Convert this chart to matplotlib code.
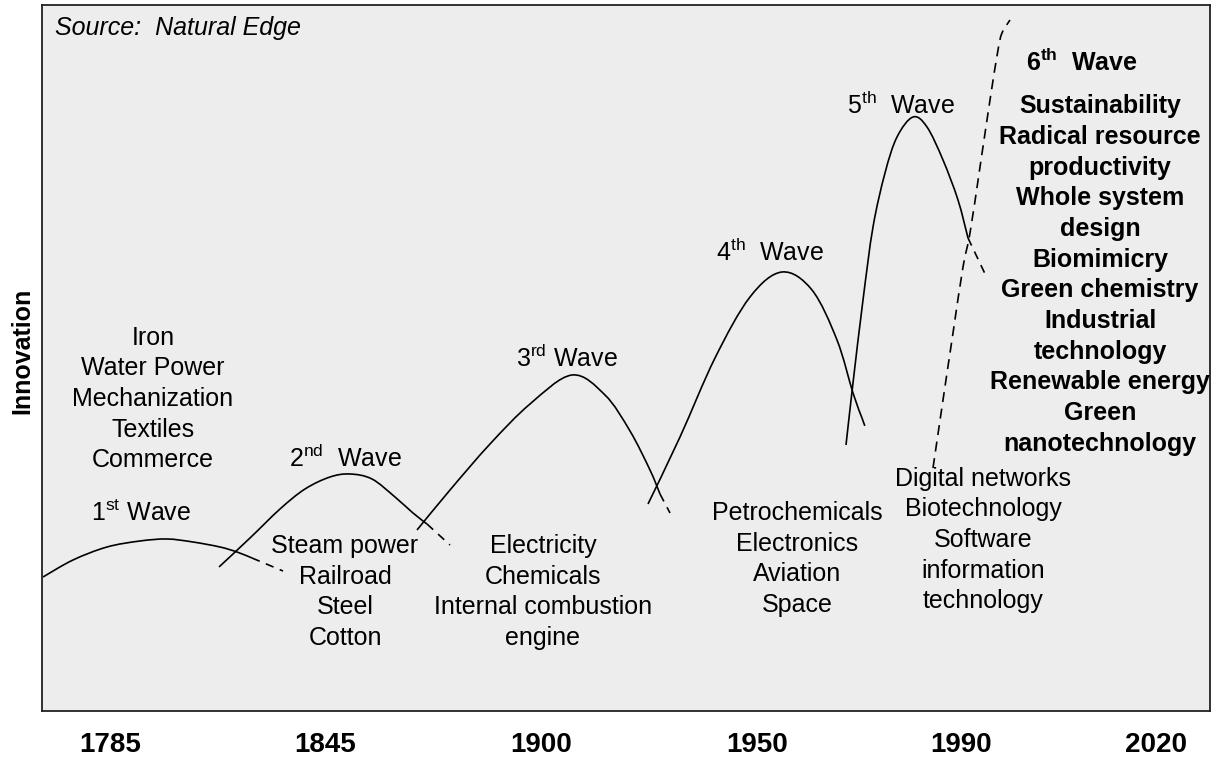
import matplotlib
matplotlib.use("Agg")
import numpy as np
import matplotlib.pyplot as plt
from matplotlib.path import Path
from matplotlib.patches import PathPatch

plt.rcParams["font.family"] = ["Liberation Sans", "DejaVu Sans"]
plt.rcParams["mathtext.fontset"] = "custom"
plt.rcParams["mathtext.rm"] = "Liberation Sans"
plt.rcParams["mathtext.bf"] = "Liberation Sans:bold"

# ----------------------------- data -----------------------------
# x = position along the time axis, y = innovation level (both in chart units)
years = ["1785", "1845", "1900", "1950", "1990", "2020"]
year_pos = [110, 325, 541, 757, 961, 1156]

wave1_x = [43, 73, 107, 140, 167, 193, 220, 237, 252]
wave1_y = [134, 151, 164, 170, 172, 169, 164, 159, 153]
wave1_tail_x = [252, 283]
wave1_tail_y = [153, 140]

wave2_x = [219, 250, 280, 305, 330, 350, 372, 395, 413, 427]
wave2_y = [144, 173, 202, 222, 234, 237, 232, 214, 198, 187]
wave2_tail_x = [427, 450]
wave2_tail_y = [187, 166]

wave3_x = [417, 450, 490, 530, 572, 605, 630, 650, 660]
wave3_y = [181, 221, 267, 307, 336, 316, 280, 241, 217]
wave3_tail_x = [660, 670]
wave3_tail_y = [217, 198]

wave4_x = [648, 680, 715, 750, 782, 812, 837, 853, 862]
wave4_y = [207, 274, 353, 414, 439, 421, 371, 318, 293]
wave4_tail_x = [862, 867]
wave4_tail_y = [293, 279]

wave5_x = [846, 853, 863, 873, 885, 897, 913, 927, 943, 958, 968]
wave5_y = [266, 328, 411, 484, 538, 574, 594, 584, 551, 511, 473]
wave5_tail_x = [968, 987]
wave5_tail_y = [473, 433]

wave6_x = [933, 943, 953, 963, 970, 980, 990, 998, 1002, 1010]
wave6_y = [243, 311, 378, 444, 478, 544, 611, 661, 678, 691]

wave_num = ["1", "2", "3", "4", "5", "6"]
wave_sup = ["st", "nd", "rd", "th", "th", "th"]
wave_gap = [" ", "  ", " ", "  ", "  ", "  "]
wave_lab_x = [141, 345, 567, 770, 901, 1082]
wave_lab_y = [198, 253, 353, 459, 606, 649]

tech_lines = [
    ["Iron", "Water Power", "Mechanization", "Textiles", "Commerce"],
    ["Steam power", "Railroad", "Steel", "Cotton"],
    ["Electricity", "Chemicals", "Internal combustion", "engine"],
    ["Petrochemicals", "Electronics", "Aviation", "Space"],
    ["Digital networks", "Biotechnology", "Software", "information", "technology"],
    ["Sustainability", "Radical resource", "productivity", "Whole system",
     "design", "Biomimicry", "Green chemistry", "Industrial", "technology",
     "Renewable energy", "Green", "nanotechnology"],
]
tech_x = [153, 345, 543, 797, 983, 1100]
tech_y = [312, 119, 119, 152, 171, 436]
tech_bold = [False, False, False, False, False, True]


# ----------------------------- utils -----------------------------

def smooth_path(xs, ys):
    """Catmull-Rom through the read points, drawn as cubic Bezier segments."""
    P = np.column_stack([xs, ys]).astype(float)
    n = len(P)
    verts = [P[0]]
    codes = [Path.MOVETO]
    for i in range(n - 1):
        p0 = P[max(i - 1, 0)]
        p1 = P[i]
        p2 = P[i + 1]
        p3 = P[min(i + 2, n - 1)]
        verts += [p1 + (p2 - p0) / 6, p2 - (p3 - p1) / 6, p2]
        codes += [Path.CURVE4] * 3
    return Path(verts, codes)


def draw_curve(ax, xs, ys, **kw):
    ax.add_patch(PathPatch(smooth_path(xs, ys), fill=False, **kw))


# ----------------------------- plot -----------------------------
W, H = 1216, 769
fig = plt.figure(figsize=(W / 100, H / 100), dpi=100)
ax = fig.add_axes([42 / W, (H - 711) / H, (1210 - 42) / W, (711 - 5) / H])
ax.set_facecolor("#ededed")
ax.set_xlim(42, 1210)
ax.set_ylim(0, 706)

for xs, ys, tx, ty in [
    (wave1_x, wave1_y, wave1_tail_x, wave1_tail_y),
    (wave2_x, wave2_y, wave2_tail_x, wave2_tail_y),
    (wave3_x, wave3_y, wave3_tail_x, wave3_tail_y),
    (wave4_x, wave4_y, wave4_tail_x, wave4_tail_y),
    (wave5_x, wave5_y, wave5_tail_x, wave5_tail_y),
]:
    draw_curve(ax, xs, ys, edgecolor="black", lw=1.2)
    ax.plot(tx, ty, color="black", lw=1.2, linestyle=(0, (5, 4)))
draw_curve(ax, wave6_x, wave6_y, edgecolor="black", lw=1.2, linestyle=(0, (6, 4)))

# wave titles
for i in range(len(wave_num)):
    bold = wave_num[i] == "6"
    sup = r"\mathbf{%s}" % wave_sup[i] if bold else r"\mathrm{%s}" % wave_sup[i]
    ax.text(wave_lab_x[i], wave_lab_y[i], wave_num[i] + "$^{" + sup + "}$" + wave_gap[i] + "Wave",
            ha="center", va="center", fontsize=18,
            fontweight="bold" if bold else "normal")

# technologies of each wave
for lines, x, y, b in zip(tech_lines, tech_x, tech_y, tech_bold):
    ax.text(x, y, "\n".join(lines), ha="center", va="center", fontsize=18,
            linespacing=1.35, fontweight="bold" if b else "normal")

ax.text(55, 683, "Source:  Natural Edge", ha="left", va="center",
        fontsize=18, style="italic")

ax.set_xticks(year_pos)
ax.set_xticklabels(years, fontsize=20, fontweight="bold")
ax.tick_params(axis="x", length=0, pad=15)
ax.set_yticks([])
for s in ax.spines.values():
    s.set_color("#222222")
    s.set_linewidth(1.3)

fig.text(22 / W, 1 - 351 / H, "Innovation", rotation=90, ha="center",
         va="center", fontsize=18, fontweight="bold")

fig.savefig("out.png", dpi=100)
